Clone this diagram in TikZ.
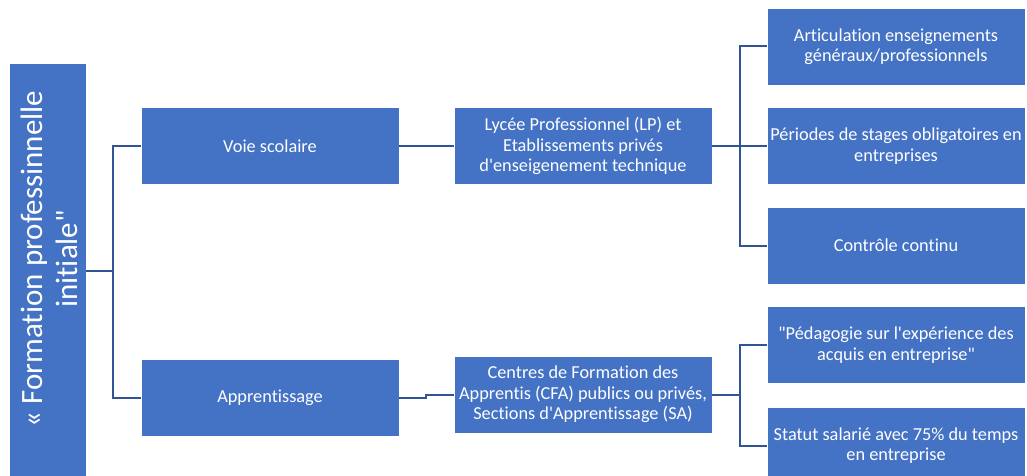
\documentclass[tikz,border=0pt]{standalone}
\usepackage{fontspec}
\setmainfont{Carlito}[Ligatures={NoCommon},RawFeature={-liga;-dlig;-clig}]
\definecolor{boxblue}{RGB}{68,114,196}
\definecolor{lineblue}{RGB}{47,85,151}
\begin{document}
\begin{tikzpicture}[x=1pt,y=-1pt,
  box/.style={rectangle, fill=boxblue, draw=white, line width=0.8pt, text=white, align=center,
    minimum width=258pt, minimum height=77pt, inner sep=1pt,
    font=\fontsize{18.3}{20.5}\selectfont},
  conn/.style={draw=lineblue, line width=2pt}]
\useasboundingbox (0,0) rectangle (1027,476);
\node[box, minimum width=77pt, minimum height=416pt] (root) at (47.5,271)
  {};
\node[text=white, rotate=90, align=center, inner sep=0pt, font=\fontsize{31}{35}\selectfont] (roottext) at (49.5,259)
  {« Formation professinnelle\\initiale\textquotedbl};
\node[box, minimum width=258pt] (voie) at (270,146) {Voie scolaire};
\node[box, minimum width=258pt] (app) at (270,398) {Apprentissage};
\node[box] (lp) at (583,146) {Lycée Professionnel (LP) et\\Etablissements privés\\d\textquotesingle enseigenement technique};
\node[box] (cfa) at (583,394.5) {Centres de Formation des\\Apprentis (CFA) publics ou privés,\\Sections d\textquotesingle Apprentissage (SA)};
\node[box] (b1) at (896,46.5) {Articulation enseignements\\généraux/professionnels};
\node[box] (b2) at (896,146) {Périodes de stages obligatoires en\\entreprises};
\node[box] (b3) at (896,245.5) {Contrôle continu};
\node[box] (b4) at (896,345) {\textquotedbl Pédagogie sur l\textquotesingle expérience des\\acquis en entreprise\textquotedbl};
\node[box] (b5) at (896,445.5) {Statut salarié avec 75\% du temps\\en entreprise};
\draw[conn] (root.east) -- ++(27,0) coordinate (j1);
\draw[conn] (j1) |- (voie.west);
\draw[conn] (j1) |- (app.west);
\draw[conn] (voie.east) -- (lp.west);
\draw[conn] (app.east) -- ++(27,0) |- (cfa.west);
\draw[conn] (lp.east) -- ++(28,0) coordinate (j2);
\draw[conn] (j2) |- (b1.west);
\draw[conn] (j2) |- (b3.west);
\draw[conn] (j2) -- (b2.west);
\draw[conn] (cfa.east) -- ++(28,0) coordinate (j3);
\draw[conn] (j3) |- (b4.west);
\draw[conn] (j3) |- (b5.west);
\end{tikzpicture}
\end{document}
